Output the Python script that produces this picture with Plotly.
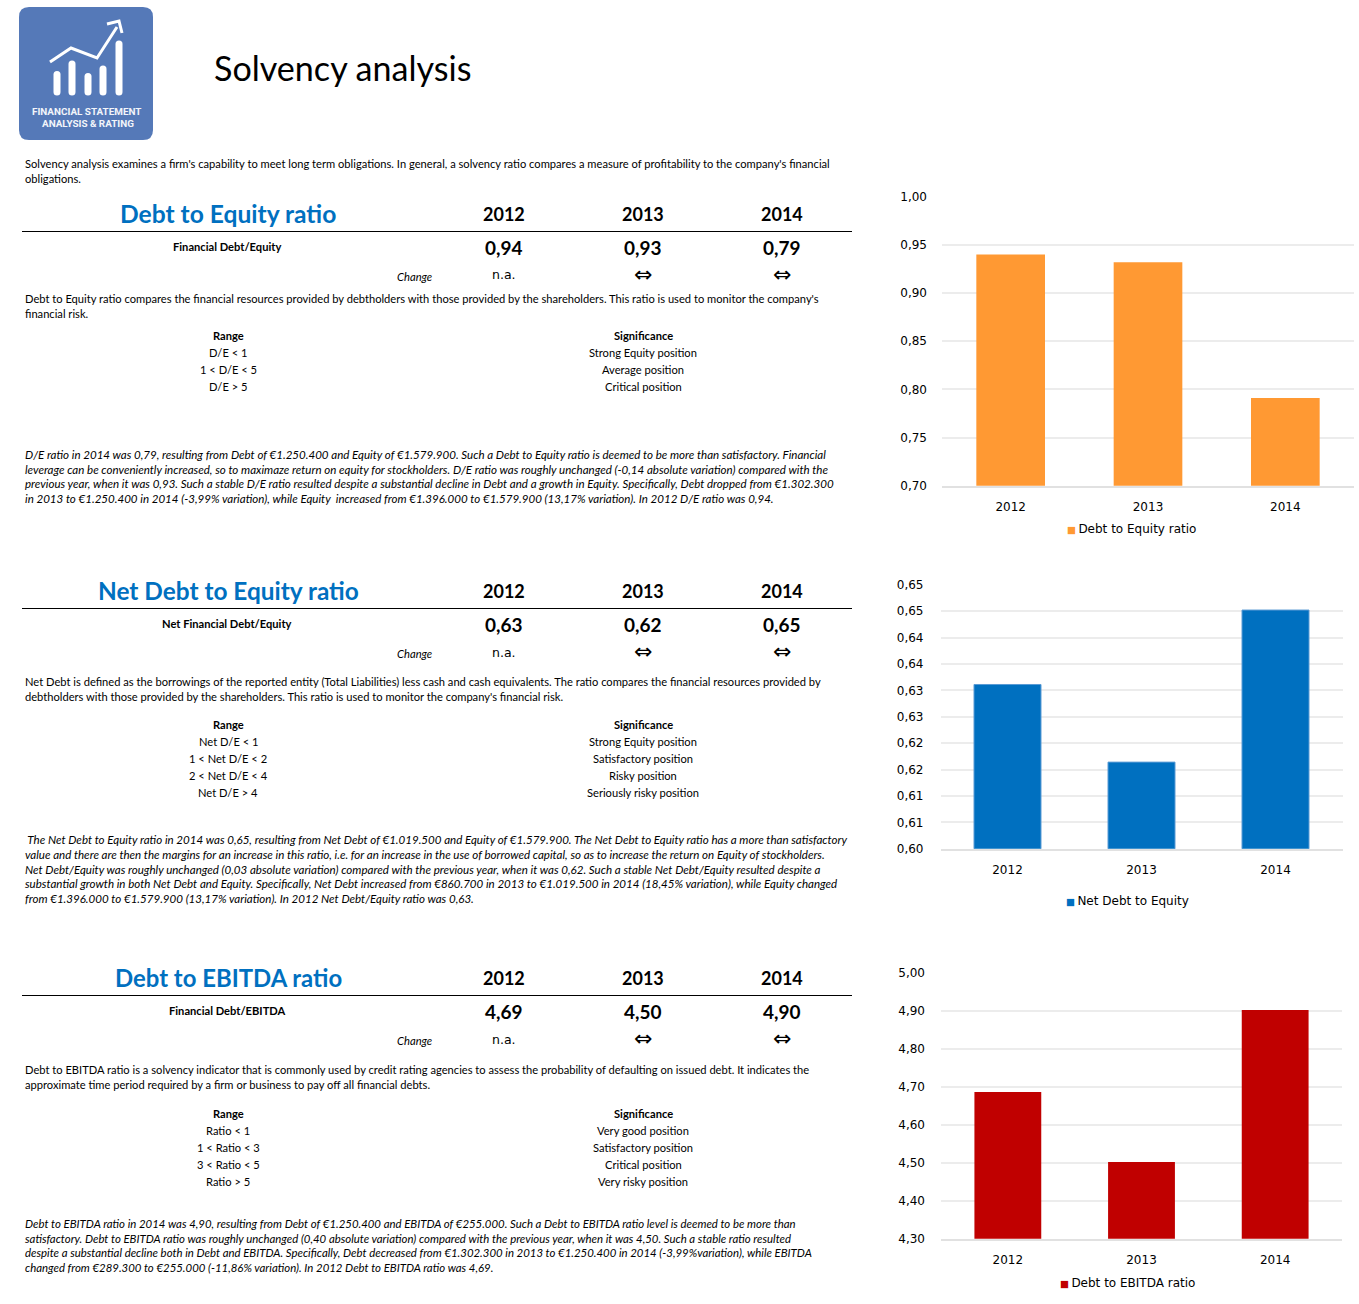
# -*- coding: utf-8 -*-
"""Solvency analysis page: text blocks on the left, three bar charts on the right"""

import plotly.graph_objects as go

#_____ VARIABLES _____

W = 1359
H = 1304

TEXT_FONT = "Lato"
CHART_FONT = "DejaVu Sans"
BLUE_TITLE = "#0070C0"

YEARS = ["2012", "2013", "2014"]

# chart values
DE_VALUES = [0.94, 0.932, 0.791]
NET_VALUES = [0.6311, 0.6164, 0.6452]
EBITDA_VALUES = [4.686, 4.502, 4.902]

# axis ticks
DE_TICKS = [0.70, 0.75, 0.80, 0.85, 0.90, 0.95, 1.00]
DE_LABELS = ["0,70", "0,75", "0,80", "0,85", "0,90", "0,95", "1,00"]
NET_TICKS = [0.600, 0.605, 0.610, 0.615, 0.620, 0.625, 0.630, 0.635, 0.640, 0.645, 0.650]
NET_LABELS = ["0,60", "0,61", "0,61", "0,62", "0,62", "0,63", "0,63", "0,64", "0,64", "0,65", "0,65"]
EBITDA_TICKS = [4.3, 4.4, 4.5, 4.6, 4.7, 4.8, 4.9, 5.0]
EBITDA_LABELS = ["4,30", "4,40", "4,50", "4,60", "4,70", "4,80", "4,90", "5,00"]

# table figures
DE_SHOWN = ["0,94", "0,93", "0,79"]
NET_SHOWN = ["0,63", "0,62", "0,65"]
EBITDA_SHOWN = ["4,69", "4,50", "4,90"]

INTRO = [
    "Solvency analysis examines a firm's capability to meet long term obligations. In general, a solvency ratio compares a measure of profitability to the company's financial",
    "obligations.",
]

DE_DESC = [
    "Debt to Equity ratio compares the financial resources provided by debtholders with those provided by the shareholders. This ratio is used to monitor the company's",
    "financial risk.",
]
DE_RANGE = ["Range", "D/E < 1", "1 < D/E < 5", "D/E > 5"]
DE_SIGN = ["Significance", "Strong Equity position", "Average position", "Critical position"]
DE_COMMENT = [
    "D/E ratio in 2014 was 0,79, resulting from Debt of €1.250.400 and Equity of €1.579.900. Such a Debt to Equity ratio is deemed to be more than satisfactory. Financial",
    "leverage can be conveniently increased, so to maximaze return on equity for stockholders. D/E ratio was roughly unchanged (-0,14 absolute variation) compared with the",
    "previous year, when it was 0,93. Such a stable D/E ratio resulted despite a substantial decline in Debt and a growth in Equity. Specifically, Debt dropped from €1.302.300",
    "in 2013 to €1.250.400 in 2014 (-3,99% variation), while Equity\u00a0 increased from €1.396.000 to €1.579.900 (13,17% variation). In 2012 D/E ratio was 0,94.",
]

NET_DESC = [
    "Net Debt is defined as the borrowings of the reported entity (Total Liabilities) less cash and cash equivalents. The ratio compares the financial resources provided by",
    "debtholders with those provided by the shareholders. This ratio is used to monitor the company's financial risk.",
]
NET_RANGE = ["Range", "Net D/E < 1", "1 < Net D/E < 2", "2 < Net D/E < 4", "Net D/E > 4"]
NET_SIGN = ["Significance", "Strong Equity position", "Satisfactory position", "Risky position", "Seriously risky position"]
NET_COMMENT = [
    "\u00a0The Net Debt to Equity ratio in 2014 was 0,65, resulting from Net Debt of €1.019.500 and Equity of €1.579.900. The Net Debt to Equity ratio has a more than satisfactory",
    "value and there are then the margins for an increase in this ratio, i.e. for an increase in the use of borrowed capital, so as to increase the return on Equity of stockholders.",
    "Net Debt/Equity was roughly unchanged (0,03 absolute variation) compared with the previous year, when it was 0,62. Such a stable Net Debt/Equity resulted despite a",
    "substantial growth in both Net Debt and Equity. Specifically, Net Debt increased from €860.700 in 2013 to €1.019.500 in 2014 (18,45% variation), while Equity changed",
    "from €1.396.000 to €1.579.900 (13,17% variation). In 2012 Net Debt/Equity ratio was 0,63.",
]

EBITDA_DESC = [
    "Debt to EBITDA ratio is a solvency indicator that is commonly used by credit rating agencies to assess the probability of defaulting on issued debt. It indicates the",
    "approximate time period required by a firm or business to pay off all financial debts.",
]
EBITDA_RANGE = ["Range", "Ratio < 1", "1 < Ratio < 3", "3 < Ratio < 5", "Ratio > 5"]
EBITDA_SIGN = ["Significance", "Very good position", "Satisfactory position", "Critical position", "Very risky position"]
EBITDA_COMMENT = [
    "Debt to EBITDA ratio in 2014 was 4,90, resulting from Debt of €1.250.400 and EBITDA of €255.000. Such a Debt to EBITDA ratio level is deemed to be more than",
    "satisfactory. Debt to EBITDA ratio was roughly unchanged (0,40 absolute variation) compared with the previous year, when it was 4,50. Such a stable ratio resulted",
    "despite a substantial decline both in Debt and EBITDA. Specifically, Debt decreased from €1.302.300 in 2013 to €1.250.400 in 2014 (-3,99%variation), while EBITDA",
    "changed from €289.300 to €255.000 (-11,86% variation). In 2012 Debt to EBITDA ratio was 4,69.",
]

#_____ FUNCTIONS _____

def px_x(x):
    return x / W


def px_y(y):
    return 1 - y / H


def add_text(fig, x, y, text, size=11.15, anchor="left", bold=False, italic=False, color="black", font=TEXT_FONT):
    if font == TEXT_FONT:
        y -= 0.7 # Lato sits a bit low
    fig.add_annotation(x=px_x(x), y=px_y(y), xref="paper", yref="paper", text=text, showarrow=False,
        xanchor=anchor, yanchor="middle", borderpad=0,
        font=dict(family=font, size=size, color=color, weight="bold" if bold else "normal",
                  style="italic" if italic else "normal"))


def add_lines(fig, x, ys, lines, **kwargs):
    for y, line in zip(ys, lines):
        add_text(fig, x, y, line, **kwargs)


def add_section(fig, title, title_size, label, shown, desc, ranges, signs, comment, comment_size, top, desc_y, range_y, comment_ys):
    # top is the y of the rule under the header
    add_text(fig, 228, top - 17, title, size=title_size, anchor="center", bold=True, color=BLUE_TITLE)
    fig.add_shape(type="line", xref="paper", yref="paper", x0=px_x(22), x1=px_x(852),
        y0=px_y(top), y1=px_y(top), line=dict(color="black", width=1))
    add_text(fig, 227, top + 16, label, anchor="center", bold=True)
    add_text(fig, 433, top + 46, "Change", size=11.2, anchor="right", italic=True)
    add_text(fig, 504, top + 43.5, "n.a.", size=12.5, anchor="center", font=CHART_FONT)
    for x, year, value in zip([504, 643, 782], YEARS, shown):
        add_text(fig, x, top - 17, year, size=18, anchor="center", bold=True)
        add_text(fig, x, top + 16.5, value, size=19, anchor="center", bold=True)
    for x in [643, 782]:
        add_text(fig, x, top + 43, "⇔", size=22, anchor="center", font=CHART_FONT)
    add_lines(fig, 24, [desc_y, desc_y + 15], desc)
    range_ys = [range_y + 17 * i for i in range(len(ranges))]
    add_lines(fig, 228, range_ys[:1], ranges[:1], anchor="center", bold=True)
    add_lines(fig, 643, range_ys[:1], signs[:1], anchor="center", bold=True)
    add_lines(fig, 228, range_ys[1:], ranges[1:], anchor="center")
    add_lines(fig, 643, range_ys[1:], signs[1:], anchor="center")
    add_lines(fig, 24, comment_ys, comment, size=comment_size, italic=True)


def add_bar_chart(fig, n, values, ticks, labels, color, box, standoff, legend_text, legend_xy, outline=None):
    x0, x1, y_top, y_bot = box
    suffix = "" if n == 1 else str(n)
    fig.add_trace(go.Bar(x=YEARS, y=values, marker=dict(color=color, line=dict(color=outline or color, width=1 if outline else 0)),
        xaxis="x" + suffix, yaxis="y" + suffix, showlegend=False))
    fig.update_layout({
        "xaxis" + suffix: dict(domain=[px_x(x0), px_x(x1)], anchor="y" + suffix, type="category", showgrid=False,
            showline=True, linecolor="rgba(205,205,205,0.6)", linewidth=2, ticks="", ticklabelstandoff=9,
            tickfont=dict(family=CHART_FONT, size=12, color="black")),
        "yaxis" + suffix: dict(domain=[px_y(y_bot), px_y(y_top)], anchor="x" + suffix, range=[ticks[0], ticks[-1]],
            tickmode="array", tickvals=ticks, ticktext=labels, showline=False, zeroline=False, ticks="",
            gridcolor="#ececec", gridwidth=1.5, ticklabelstandoff=standoff,
            tickfont=dict(family=CHART_FONT, size=12, color="black")),
    })
    text = '<span style="color:%s;font-size:9.5px">■</span>\u2009%s' % (color, legend_text)
    add_text(fig, legend_xy[0], legend_xy[1], text, size=12, font=CHART_FONT)


def round_rect(x0, y0, x1, y1, r):
    pts = [
        "M", px_x(x0 + r), px_y(y0), "L", px_x(x1 - r), px_y(y0), "Q", px_x(x1), px_y(y0), px_x(x1), px_y(y0 + r),
        "L", px_x(x1), px_y(y1 - r), "Q", px_x(x1), px_y(y1), px_x(x1 - r), px_y(y1),
        "L", px_x(x0 + r), px_y(y1), "Q", px_x(x0), px_y(y1), px_x(x0), px_y(y1 - r),
        "L", px_x(x0), px_y(y0 + r), "Q", px_x(x0), px_y(y0), px_x(x0 + r), px_y(y0), "Z",
    ]
    return " ".join(str(p) for p in pts)


def add_logo(fig):
    fig.add_shape(type="path", xref="paper", yref="paper", fillcolor="#5579B8", line=dict(width=0),
        path=round_rect(19, 7, 153, 140, 10))
    for x, top in [(57, 71), (72, 60.5), (88, 73), (103, 65.5), (119, 40.5)]:
        fig.add_shape(type="path", xref="paper", yref="paper", fillcolor="white", line=dict(width=0),
            path=round_rect(x - 3.5, top, x + 3.5, 95.5, 3.5))
    for pts in [[(50, 62), (71, 48), (97, 58), (117, 27)], [(107, 24), (119, 21), (122, 33)]]:
        path = "M " + " L ".join("{} {}".format(px_x(a), px_y(b)) for a, b in pts)
        fig.add_shape(type="path", xref="paper", yref="paper", path=path, line=dict(color="white", width=3))
    add_text(fig, 86.5, 112, "FINANCIAL STATEMENT", size=9.9, anchor="center", bold=True, color="#F2F5FA", font="Roboto")
    add_text(fig, 87.5, 123.5, "ANALYSIS & RATING", size=9.9, anchor="center", bold=True, color="#F2F5FA", font="Roboto")


#_____ FIGURE _____

fig = go.Figure()

add_logo(fig)
add_text(fig, 212.5, 68, "Solvency analysis", size=34.1)
add_lines(fig, 24, [164, 179], INTRO)

add_section(fig, "Debt to Equity ratio", 24.6, "Financial Debt/Equity", DE_SHOWN, DE_DESC, DE_RANGE, DE_SIGN,
    DE_COMMENT, 11.55, 231.5, 299, 336, [455, 470, 484, 499])
add_section(fig, "Net Debt to Equity ratio", 24.4, "Net Financial Debt/Equity", NET_SHOWN, NET_DESC, NET_RANGE, NET_SIGN,
    NET_COMMENT, 11.55, 608.5, 682, 725, [840, 855, 870, 884, 899])
add_section(fig, "Debt to EBITDA ratio", 23.9, "Financial Debt/EBITDA", EBITDA_SHOWN, EBITDA_DESC, EBITDA_RANGE, EBITDA_SIGN,
    EBITDA_COMMENT, 11.4, 995.5, 1070, 1114, [1224, 1239, 1253, 1268])

add_bar_chart(fig, 1, DE_VALUES, DE_TICKS, DE_LABELS, "#FF9933", (942, 1354, 196.7, 485.7), 14,
    "Debt to Equity ratio", (1065.5, 529))
add_bar_chart(fig, 2, NET_VALUES, NET_TICKS, NET_LABELS, "#0070C0", (940.5, 1342.5, 584.7, 848.7), 16,
    "Net Debt to Equity", (1064.5, 901), outline="#5B9BD5")
add_bar_chart(fig, 3, EBITDA_VALUES, EBITDA_TICKS, EBITDA_LABELS, "#C00000", (941, 1342, 972.7, 1238.7), 15,
    "Debt to EBITDA ratio", (1058.5, 1283))

fig.update_layout(width=W, height=H, margin=dict(l=0, r=0, t=0, b=0, autoexpand=False),
    paper_bgcolor="white", plot_bgcolor="white", bargap=0.5, showlegend=False)

fig.write_html("out.html", config={"displayModeBar": False}, post_script="document.body.style.margin='0';")
